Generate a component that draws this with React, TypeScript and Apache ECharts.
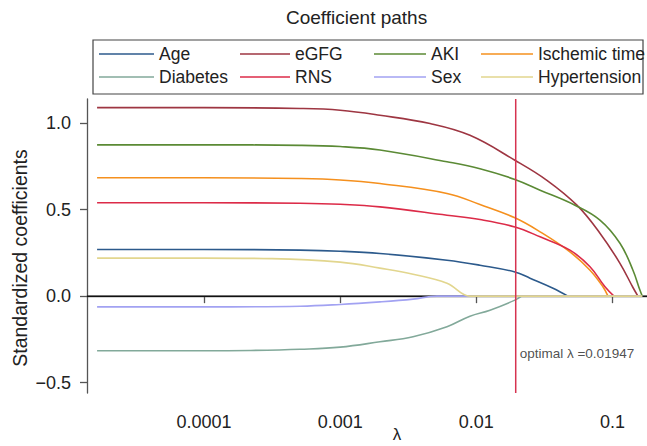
import React, { useEffect, useRef } from "react";
import * as echarts from "echarts";

const FONT = "'Liberation Sans', Arial, Helvetica, sans-serif";

// axis extents
const X_MIN = 1.383e-5;
const X_MAX = 0.1793;
const Y_MIN = -0.56;
const Y_MAX = 1.14;

const xTickValues = [0.0001, 0.001, 0.01, 0.1];
const xTickLabels = ["0.0001", "0.001", "0.01", "0.1"];
const yTickValues = [-0.5, 0, 0.5, 1.0];
const yTickLabels = ["\u22120.5", "0.0", "0.5", "1.0"];

const optimalLambda = 0.01947;
const optimalLabelY = -0.33;

// coefficient paths (λ, standardized coefficient)
const ageLambda = [1.64e-5, 1e-4, 5.08e-4, 1e-3, 1.96e-3, 6.09e-3, 1.064e-2, 1.92e-2, 2.48e-2, 3.66e-2, 4.71e-2];
const ageCoef = [0.27, 0.27, 0.266, 0.26, 0.247, 0.208, 0.179, 0.14, 0.104, 0.046, 0];

const egfgLambda = [1.64e-5, 1e-4, 5.08e-4, 1e-3, 1.96e-3, 4.57e-3, 8.98e-3, 1.92e-2, 3.3e-2, 5.48e-2, 8.09e-2, 0.1135, 0.1414, 0.1538];
const egfgCoef = [1.09, 1.09, 1.085, 1.075, 1.046, 0.998, 0.93, 0.786, 0.67, 0.526, 0.364, 0.19, 0.05, 0];

const akiLambda = [1.64e-5, 1e-4, 5.08e-4, 1e-3, 1.96e-3, 6.09e-3, 1.064e-2, 1.92e-2, 2.94e-2, 5.3e-2, 8.09e-2, 0.1135, 0.1414, 0.159, 0.1655];
const akiCoef = [0.875, 0.875, 0.872, 0.865, 0.845, 0.777, 0.737, 0.675, 0.613, 0.526, 0.44, 0.306, 0.15, 0.035, 0];

const ischemicLambda = [1.64e-5, 1e-4, 5.08e-4, 1e-3, 1.96e-3, 6.09e-3, 1.064e-2, 1.92e-2, 2.94e-2, 4.87e-2, 6.84e-2, 8.51e-2, 9.27e-2];
const ischemicCoef = [0.685, 0.685, 0.68, 0.672, 0.651, 0.594, 0.53, 0.453, 0.372, 0.256, 0.15, 0.054, 0];

const diabetesLambda = [1.64e-5, 1e-4, 2.18e-4, 5.08e-4, 1e-3, 1.96e-3, 3.43e-3, 6.09e-3, 8.98e-3, 1.26e-2, 1.92e-2, 2.15e-2];
const diabetesCoef = [-0.316, -0.316, -0.314, -0.307, -0.295, -0.264, -0.235, -0.177, -0.116, -0.081, -0.023, 0];

const rnsLambda = [1.64e-5, 1e-4, 5.08e-4, 1e-3, 1.96e-3, 6.09e-3, 1.064e-2, 1.92e-2, 2.94e-2, 4.87e-2, 6.84e-2, 8.81e-2, 0.1026];
const rnsCoef = [0.54, 0.54, 0.537, 0.531, 0.516, 0.468, 0.443, 0.4, 0.343, 0.266, 0.17, 0.054, 0];

const sexLambda = [1.64e-5, 1e-4, 5.08e-4, 1e-3, 1.96e-3, 3.43e-3, 5.14e-3, 6.09e-3, 0.1655];
const sexCoef = [-0.062, -0.062, -0.058, -0.048, -0.033, -0.017, 0, 0, 0];

const hypertensionLambda = [1.64e-5, 1e-4, 3.16e-4, 1e-3, 1.96e-3, 3.43e-3, 6.09e-3, 8.98e-3, 1.064e-2, 0.1655];
const hypertensionCoef = [0.22, 0.22, 0.217, 0.197, 0.162, 0.127, 0.075, 0, 0, 0];

const curves = [
  { name: "Age", color: "#2c5a8c", lam: ageLambda, coef: ageCoef },
  { name: "eGFG", color: "#9e3642", lam: egfgLambda, coef: egfgCoef },
  { name: "AKI", color: "#5b8a35", lam: akiLambda, coef: akiCoef },
  { name: "Ischemic time", color: "#f5901e", lam: ischemicLambda, coef: ischemicCoef },
  { name: "Diabetes", color: "#82a99a", lam: diabetesLambda, coef: diabetesCoef },
  { name: "RNS", color: "#dc2b48", lam: rnsLambda, coef: rnsCoef },
  { name: "Sex", color: "#a2a2f2", lam: sexLambda, coef: sexCoef },
  { name: "Hypertension", color: "#e2d68e", lam: hypertensionLambda, coef: hypertensionCoef },
];

const legendColumns = [
  ["Age", "Diabetes"],
  ["eGFG", "RNS"],
  ["AKI", "Sex"],
  ["Ischemic time", "Hypertension"],
];
const legendLeft = [99, 240, 374, 481];
const legendItemWidth = [55, 50, 52, 52];

const pair = (xs: number[], ys: number[]) => xs.map((x, i) => [x, ys[i]]);

const lookup = (vals: number[], labels: string[], log: boolean) => (v: number) => {
  for (let i = 0; i < vals.length; i++) {
    const a = log ? Math.log10(v) : v;
    const b = log ? Math.log10(vals[i]) : vals[i];
    if (Math.abs(a - b) < 1e-6) return labels[i];
  }
  return "";
};

export default function App() {
  const ref = useRef<HTMLDivElement>(null);
  useEffect(() => {
    const chart = echarts.init(ref.current!, null, { renderer: "svg" });
    const axisColor = "#555";
    const option: any = {
      animation: false,
      backgroundColor: "#fff",
      textStyle: { fontFamily: FONT },
      title: {
        text: "Coefficient paths",
        left: 286,
        top: 8,
        padding: 0,
        textStyle: { fontSize: 19, fontWeight: "normal", color: "#222", fontFamily: FONT },
      },
      legend: legendColumns.map((names, i) => ({
        orient: "vertical",
        left: legendLeft[i],
        top: 45,
        padding: 0,
        icon: "rect",
        itemWidth: legendItemWidth[i],
        itemHeight: 1.6,
        itemGap: 5,
        selectedMode: false,
        textStyle: { fontSize: 17.5, color: "#222", fontFamily: FONT },
        data: names,
      })),
      graphic: [
        {
          type: "rect",
          shape: { x: 93, y: 40, width: 550, height: 54 },
          style: { fill: "none", stroke: "#444", lineWidth: 1.2 },
          silent: true,
        },
      ],
      grid: {
        left: 87,
        right: 0,
        top: 99,
        bottom: 53,
        containLabel: false,
        outerBoundsMode: "none",
      },
      xAxis: {
        type: "log",
        logBase: 10,
        min: X_MIN,
        max: X_MAX,
        name: "\u03bb",
        nameLocation: "middle",
        nameGap: 33,
        nameMoveOverlap: false,
        nameTextStyle: { fontSize: 17, color: "#222", fontFamily: FONT, padding: [0, 0, 0, 60] },
        axisLine: { show: true, lineStyle: { color: axisColor, width: 1.3 } },
        axisTick: { show: true, length: 7, customValues: xTickValues, lineStyle: { color: axisColor, width: 1.3 } },
        axisLabel: {
          customValues: xTickValues,
          formatter: lookup(xTickValues, xTickLabels, true),
          fontSize: 18,
          color: "#222",
          margin: 20,
          fontFamily: FONT,
        },
        splitLine: { show: false },
        minorTick: { show: false },
      },
      yAxis: {
        type: "value",
        min: Y_MIN,
        max: Y_MAX,
        name: "Standardized coefficients",
        nameLocation: "middle",
        nameRotate: 90,
        nameGap: 57,
        nameMoveOverlap: false,
        nameTextStyle: { fontSize: 19.5, color: "#222", fontFamily: FONT, padding: [0, 24, 0, 0] },
        axisLine: { show: true, lineStyle: { color: axisColor, width: 1.3 } },
        axisTick: { show: true, length: 7, customValues: yTickValues, lineStyle: { color: axisColor, width: 1.3 } },
        axisLabel: {
          customValues: yTickValues,
          formatter: lookup(yTickValues, yTickLabels, false),
          fontSize: 18,
          color: "#222",
          margin: 16,
          fontFamily: FONT,
        },
        splitLine: { show: false },
      },
      series: [
        {
          type: "line",
          name: "zero",
          data: [[X_MIN, 0], [X_MAX, 0]],
          symbol: "none",
          silent: true,
          lineStyle: { color: "#111", width: 1.5 },
          z: 2,
        },
        ...curves.map((c) => ({
          type: "line",
          name: c.name,
          data: pair(c.lam, c.coef),
          symbol: "none",
          smooth: 0.4,
          lineStyle: { color: c.color, width: 1.6 },
          itemStyle: { color: c.color },
          z: 3,
        })),
        {
          type: "line",
          name: "optimal",
          data: [[optimalLambda, Y_MIN], [optimalLambda, Y_MAX]],
          symbol: "none",
          silent: true,
          lineStyle: { color: "#d63350", width: 1.5 },
          z: 4,
        },
        {
          type: "scatter",
          name: "optimalLabel",
          data: [[optimalLambda, optimalLabelY]],
          symbolSize: 0,
          silent: true,
          label: {
            show: true,
            position: "right",
            distance: 4,
            formatter: `optimal \u03bb =${optimalLambda}`,
            fontSize: 13.5,
            color: "#222",
            fontFamily: FONT,
          },
          z: 5,
        },
      ],
    };
    chart.setOption(option);
    return () => chart.dispose();
  }, []);
  return (
    <div
      ref={ref}
      style={{ position: "absolute", left: 0, top: 0, width: 647, height: 446 }}
    />
  );
}
